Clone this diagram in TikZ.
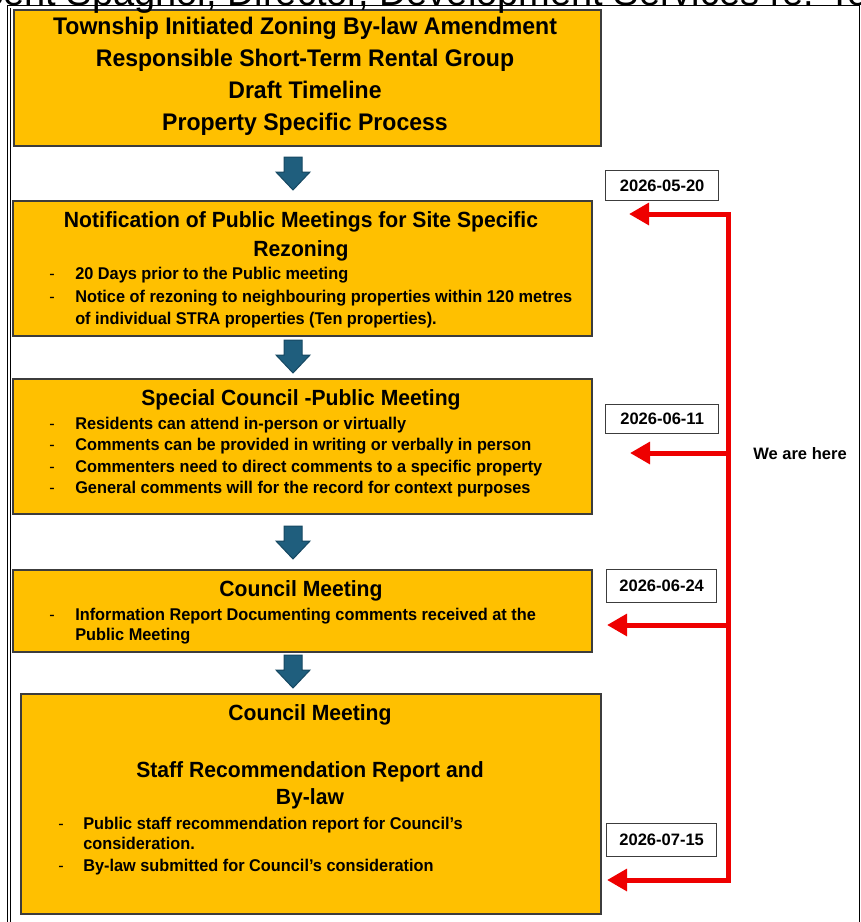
\documentclass[tikz,border=0pt]{standalone}
\usepackage{fontspec}
\setmainfont{Liberation Sans}
\newfontfamily\cf[FakeStretch=0.96]{Liberation Sans}
\usetikzlibrary{arrows.meta}
\definecolor{boxyel}{RGB}{255,192,0}
\definecolor{boxedge}{RGB}{60,60,60}
\definecolor{blk}{RGB}{31,94,125}
\definecolor{blkedge}{RGB}{22,72,98}
\definecolor{redl}{RGB}{238,0,0}
\newdimen\pxu \pxu=0.75pt
\tikzset{
  box/.style={draw=boxedge, line width=1.5\pxu, fill=boxyel, anchor=north west, inner sep=0pt},
  datebox/.style={draw=boxedge, line width=1.3\pxu, fill=white, anchor=north west, inner sep=0pt,
    font=\bfseries\fontsize{12.4}{14}\selectfont},
  tt0/.style={font=\cf\bfseries\fontsize{18}{21}\selectfont, inner sep=0pt, anchor=mid, yshift=-3.5pt},
  ttl/.style={font=\cf\bfseries\fontsize{16.5}{19}\selectfont, inner sep=0pt, anchor=mid, yshift=-3pt},
  bul/.style={font=\cf\bfseries\fontsize{12.75}{15}\selectfont, inner sep=0pt, anchor=mid west, yshift=-2.25pt},
  dsh/.style={font=\cf\fontsize{12.75}{15}\selectfont, inner sep=0pt, anchor=mid west, yshift=-2.25pt},
  redline/.style={draw=redl, line width=5\pxu, line join=miter},
  tipr/.tip={Triangle[length=15pt,width=16pt]},
  downarr/.pic={\filldraw[fill=blk, draw=blkedge, line width=1\pxu]
    (-9,0) -- (9,0) -- (9,15) -- (17,15) -- (0,33) -- (-17,15) -- (-9,15) -- cycle;}
}
\begin{document}
\begin{tikzpicture}[x=0.75pt, y=-0.75pt]
\useasboundingbox (0,0) rectangle (861,922);
\clip (0,0) rectangle (861,922);
\fill[white] (0,0) rectangle (861,922);
% frame
\draw[black, line width=1\pxu] (7,5) rectangle (859,940);
\draw[black, line width=1\pxu] (10,8) -- (10,940);

% boxes
\node[box, minimum width=587\pxu, minimum height=136\pxu] (b1) at (13,9) {};
\node[box, minimum width=579\pxu, minimum height=135\pxu] (b2) at (12,200) {};
\node[box, minimum width=579\pxu, minimum height=135\pxu] (b3) at (12,378) {};
\node[box, minimum width=579\pxu, minimum height=82\pxu] (b4) at (12,569) {};
\node[box, minimum width=580\pxu, minimum height=220\pxu] (b5) at (20,693) {};

% box 1 text
\node[tt0] (b1l1) at (305,26) {Township Initiated Zoning By-law Amendment};
\node[tt0] (b1l2) at (305,58) {Responsible Short-Term Rental Group};
\node[tt0] (b1l3) at (305,90) {Draft Timeline};
\node[tt0] (b1l4) at (305,122) {Property Specific Process};

% box 2 text
\node[ttl] (b2t1) at (301,220) {Notification of Public Meetings for Site Specific};
\node[ttl] (b2t2) at (301,249) {Rezoning};
\node[dsh] (b2d1) at (49,273) {-};
\node[bul] (b2l1) at (75,273) {20 Days prior to the Public meeting};
\node[dsh] (b2d2) at (49,296) {-};
\node[bul] (b2l2) at (75,296) {Notice of rezoning to neighbouring properties within 120 metres};
\node[bul] (b2l3) at (75,318) {of individual STRA properties (Ten properties).};

% box 3 text
\node[ttl] (b3t1) at (301,398) {Special Council -Public Meeting};
\node[dsh] (b3d1) at (49,423) {-};
\node[bul] (b3l1) at (75,423) {Residents can attend in-person or virtually};
\node[dsh] (b3d2) at (49,444) {-};
\node[bul] (b3l2) at (75,444) {Comments can be provided in writing or verbally in person};
\node[dsh] (b3d3) at (49,466) {-};
\node[bul] (b3l3) at (75,466) {Commenters need to direct comments to a specific property};
\node[dsh] (b3d4) at (49,487) {-};
\node[bul] (b3l4) at (75,487) {General comments will for the record for context purposes};

% box 4 text
\node[ttl] (b4t1) at (301,589) {Council Meeting};
\node[dsh] (b4d1) at (49,614) {-};
\node[bul] (b4l1) at (75,614) {Information Report Documenting comments received at the};
\node[bul] (b4l2) at (75,634) {Public Meeting};

% box 5 text
\node[ttl] (b5t1) at (310,713) {Council Meeting};
\node[ttl] (b5t2) at (310,770) {Staff Recommendation Report and};
\node[ttl] (b5t3) at (310,797) {By-law};
\node[dsh] (b5d1) at (58,823) {-};
\node[bul] (b5l1) at (83,823) {Public staff recommendation report for Council’s};
\node[bul] (b5l2) at (83,843) {consideration.};
\node[dsh] (b5d2) at (58,865) {-};
\node[bul] (b5l3) at (83,865) {By-law submitted for Council’s consideration};

% blue block arrows
\pic (a1) at (293,157) {downarr};
\pic (a2) at (293,340) {downarr};
\pic (a3) at (293,526) {downarr};
\pic (a4) at (293,655) {downarr};

% date boxes
\node[datebox, minimum width=113\pxu, minimum height=30\pxu] (d1) at (605,170) {2026-05-20};
\node[datebox, minimum width=113\pxu, minimum height=29\pxu] (d2) at (605,404) {2026-06-11};
\node[datebox, minimum width=110\pxu, minimum height=33\pxu] (d3) at (606,569) {2026-06-24};
\node[datebox, minimum width=110\pxu, minimum height=33\pxu] (d4) at (606,823) {2026-07-15};

% red connectors
\coordinate (t1) at (629,214);
\coordinate (c1) at (728,214);
\coordinate (c4) at (728,880);
\coordinate (t4) at (607,880);
\coordinate (s2) at (728,453);
\coordinate (t2) at (630,453);
\coordinate (s3) at (728,625);
\coordinate (t3) at (607,625);
\draw[redline, {tipr}-{tipr}] (t1) -- (c1) -- (c4) -- (t4);
\draw[redline, -{tipr}] (s2) -- (t2);
\draw[redline, -{tipr}] (s3) -- (t3);

\node[font=\bfseries\fontsize{12.4}{14}\selectfont, inner sep=0pt, anchor=mid, yshift=-2.25pt] (here) at (800,453) {We are here};

% clipped header text
\node[font=\fontsize{28.5}{30}\selectfont, anchor=base west, inner sep=0pt] (hdr) at (-70,5)
  {Vincent Spagnol, Director, Development Services re: To};
\end{tikzpicture}
\end{document}
